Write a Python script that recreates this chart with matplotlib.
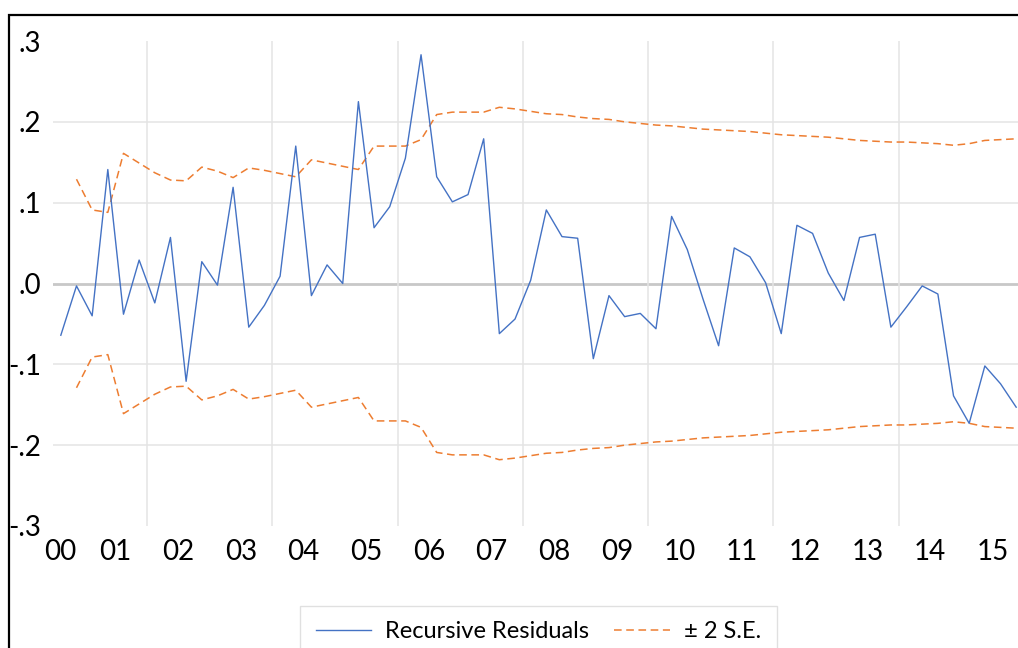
import numpy as np
import matplotlib
matplotlib.use("Agg")
import matplotlib.pyplot as plt
from matplotlib.patches import Rectangle

plt.rcParams['font.family'] = ['Lato', 'DejaVu Sans']

# quarterly recursive residuals, 2000Q1 .. 2015Q2
residuals = [-0.064, -0.003, -0.040, 0.141, -0.038, 0.029, -0.024, 0.057,
             -0.121, 0.027, -0.002, 0.119, -0.054, -0.027, 0.009, 0.170,
             -0.015, 0.023, 0.000, 0.225, 0.069, 0.095, 0.155, 0.283,
             0.132, 0.101, 0.110, 0.179, -0.062, -0.044, 0.004, 0.091,
             0.058, 0.056, -0.093, -0.015, -0.041, -0.037, -0.056, 0.083,
             0.042, -0.019, -0.077, 0.044, 0.033, 0.001, -0.062, 0.072,
             0.062, 0.013, -0.021, 0.057, 0.061, -0.054, -0.029, -0.003,
             -0.013, -0.139, -0.173, -0.102, -0.124, -0.153]

# 2 x standard error band, starts one quarter later (2000Q2)
two_se = [0.129, 0.091, 0.088, 0.161, 0.149, 0.137, 0.128, 0.127, 0.144,
          0.139, 0.131, 0.143, 0.140, 0.136, 0.132, 0.153, 0.149, 0.145,
          0.141, 0.170, 0.170, 0.170, 0.178, 0.209, 0.212, 0.212, 0.212,
          0.218, 0.216, 0.213, 0.210, 0.209, 0.206, 0.204, 0.203, 0.200,
          0.198, 0.196, 0.195, 0.193, 0.191, 0.190, 0.189, 0.188, 0.186,
          0.184, 0.183, 0.182, 0.181, 0.179, 0.177, 0.176, 0.175, 0.175,
          0.174, 0.173, 0.171, 0.173, 0.177, 0.178, 0.179]

year_labels = ['00', '01', '02', '03', '04', '05', '06', '07',
               '08', '09', '10', '11', '12', '13', '14', '15']
y_ticks = [-0.3, -0.2, -0.1, 0.0, 0.1, 0.2, 0.3]
y_labels = ['-.3', '-.2', '-.1', '.0', '.1', '.2', '.3']

blue = '#4472C4'
orange = '#ED7D31'
grid_c = '#E4E4E4'

fig = plt.figure(figsize=(10.18, 6.48), dpi=100)
ax = fig.add_axes([53 / 1018, 122 / 648, 971 / 1018, 485 / 648])

x_res = np.arange(len(residuals)) + 0.5
x_se = np.arange(1, len(two_se) + 1) + 0.5
se = np.array(two_se)

# grid
for v in [-0.2, -0.1, 0.1, 0.2]:
    ax.axhline(v, color=grid_c, lw=1.1, zorder=0)
ax.axhline(0, color='#C8C8C8', lw=2.0, zorder=0)
ax.set_xticks(np.arange(6, 62, 8), minor=True)
ax.grid(which='minor', axis='x', color=grid_c, lw=1.1, zorder=0)
ax.tick_params(which='minor', length=0)

line_res, = ax.plot(x_res, residuals, color=blue, lw=1.0, zorder=3)
line_se, = ax.plot(x_se, se, color=orange, lw=1.1, dashes=(5, 3), zorder=2)
ax.plot(x_se, -se, color=orange, lw=1.1, dashes=(5, 3), zorder=2)

ax.set_xlim(0, 62)
ax.set_ylim(-0.3, 0.3)
xt = [4.0 * k for k in range(len(year_labels))]
xt[0] = 0.45
ax.set_xticks(xt)
ax.set_xticklabels(year_labels)
ax.set_yticks(y_ticks)
ax.set_yticklabels(y_labels)
ax.tick_params(axis='x', length=0, pad=9, labelsize=20)
ax.tick_params(axis='y', length=0, pad=8.5, labelsize=20)
for s in ax.spines.values():
    s.set_visible(False)

leg = fig.legend([line_res, line_se], ['Recursive Residuals', '\u00b1 2 S.E.'],
                 loc='upper center', bbox_to_anchor=(538.5 / 1018, 1 - 606 / 648),
                 borderaxespad=0, ncol=2, fontsize=17, frameon=True,
                 fancybox=False, edgecolor='#D9D9D9', borderpad=0.65,
                 handlelength=2.35, handletextpad=0.6, columnspacing=1.05)
leg.get_frame().set_linewidth(1.0)

# outer chart frame
fig.patches.append(Rectangle((9 / 1018, -0.2), 1.2, 1 - 15 / 648 + 0.2,
                             transform=fig.transFigure, fill=False,
                             edgecolor='black', lw=1.6))

fig.savefig('out.png', dpi=100)
